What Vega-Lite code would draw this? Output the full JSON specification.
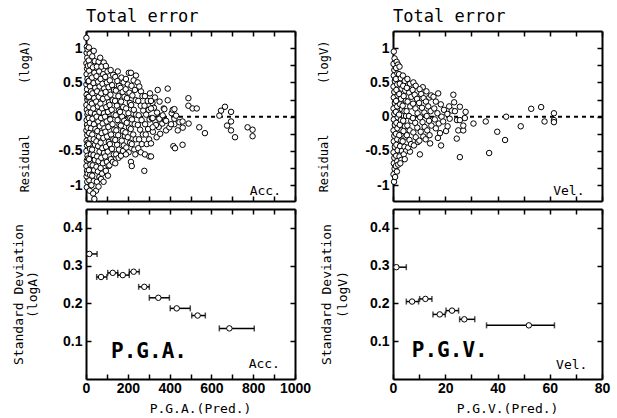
{
  "$schema": "https://vega.github.io/schema/vega-lite/v6.json",
  "padding": {"left": 12, "top": 8, "right": 5, "bottom": 5},
  "background": "white",
  "datasets": {
    "acc": [
      {"p":2,"r":1.15},{"p":4,"r":1.02},{"p":3,"r":0.93},{"p":6,"r":0.86},{"p":2,"r":0.78},{"p":5,"r":0.7},{"p":3,"r":0.62},{"p":7,"r":0.55},{"p":2,"r":0.47},{"p":5,"r":0.4},{"p":3,"r":0.32},{"p":6,"r":0.25},{"p":2,"r":0.17},{"p":4,"r":0.1},{"p":7,"r":0.03},{"p":3,"r":-0.05},{"p":5,"r":-0.12},{"p":2,"r":-0.2},{"p":6,"r":-0.27},{"p":3,"r":-0.35},{"p":5,"r":-0.42},{"p":2,"r":-0.5},{"p":7,"r":-0.57},{"p":4,"r":-0.64},{"p":2,"r":-0.72},{"p":5,"r":-0.79},{"p":3,"r":-0.87},{"p":6,"r":-0.95},{"p":4,"r":-1.03},{"p":8,"r":0.98},{"p":9,"r":0.74},{"p":10,"r":0.51},{"p":9,"r":0.28},{"p":10,"r":0.06},{"p":8,"r":-0.16},{"p":10,"r":-0.38},{"p":9,"r":-0.61},{"p":8,"r":-0.83},
      {"p":14,"r":1.01},{"p":18,"r":0.92},{"p":13,"r":0.82},{"p":20,"r":0.75},{"p":15,"r":0.67},{"p":22,"r":0.6},{"p":13,"r":0.52},{"p":19,"r":0.44},{"p":24,"r":0.37},{"p":14,"r":0.29},{"p":20,"r":0.21},{"p":16,"r":0.14},{"p":23,"r":0.06},{"p":13,"r":-0.02},{"p":18,"r":-0.09},{"p":24,"r":-0.17},{"p":15,"r":-0.24},{"p":21,"r":-0.32},{"p":13,"r":-0.4},{"p":19,"r":-0.47},{"p":24,"r":-0.55},{"p":15,"r":-0.62},{"p":21,"r":-0.7},{"p":14,"r":-0.78},{"p":20,"r":-0.85},{"p":16,"r":-0.93},{"p":23,"r":-1.0},{"p":18,"r":-1.08},
      {"p":37,"r":0.96},{"p":30,"r":0.88},{"p":42,"r":0.81},{"p":33,"r":0.72},{"p":40,"r":0.64},{"p":29,"r":0.57},{"p":36,"r":0.49},{"p":44,"r":0.42},{"p":31,"r":0.34},{"p":39,"r":0.27},{"p":28,"r":0.19},{"p":35,"r":0.12},{"p":43,"r":0.04},{"p":31,"r":-0.03},{"p":38,"r":-0.11},{"p":45,"r":-0.18},{"p":30,"r":-0.26},{"p":37,"r":-0.33},{"p":43,"r":-0.41},{"p":29,"r":-0.48},{"p":36,"r":-0.56},{"p":42,"r":-0.63},{"p":32,"r":-0.71},{"p":39,"r":-0.78},{"p":30,"r":-0.86},{"p":37,"r":-0.94},{"p":26,"r":-1.0},{"p":40,"r":-1.2},{"p":48,"r":-1.08},{"p":34,"r":-1.12},
      {"p":60,"r":0.8},{"p":52,"r":0.73},{"p":63,"r":0.66},{"p":50,"r":0.59},{"p":58,"r":0.51},{"p":65,"r":0.44},{"p":53,"r":0.37},{"p":61,"r":0.29},{"p":49,"r":0.22},{"p":57,"r":0.15},{"p":64,"r":0.07},{"p":51,"r":0.0},{"p":59,"r":-0.07},{"p":66,"r":-0.14},{"p":54,"r":-0.21},{"p":62,"r":-0.29},{"p":50,"r":-0.36},{"p":58,"r":-0.43},{"p":65,"r":-0.51},{"p":53,"r":-0.58},{"p":60,"r":-0.65},{"p":50,"r":-0.73},{"p":57,"r":-0.8},{"p":64,"r":-0.88},{"p":52,"r":-0.95},{"p":60,"r":-1.02},
      {"p":68,"r":0.86},{"p":85,"r":0.79},{"p":74,"r":0.73},{"p":82,"r":0.62},{"p":70,"r":0.55},{"p":79,"r":0.48},{"p":87,"r":0.41},{"p":73,"r":0.34},{"p":81,"r":0.26},{"p":69,"r":0.19},{"p":77,"r":0.12},{"p":86,"r":0.05},{"p":72,"r":-0.02},{"p":80,"r":-0.1},{"p":88,"r":-0.17},{"p":75,"r":-0.24},{"p":83,"r":-0.31},{"p":70,"r":-0.38},{"p":78,"r":-0.46},{"p":86,"r":-0.53},{"p":73,"r":-0.6},{"p":81,"r":-0.68},{"p":70,"r":-0.75},{"p":77,"r":-0.83},{"p":72,"r":-0.91},{"p":84,"r":-0.95},
      {"p":95,"r":0.74},{"p":103,"r":0.66},{"p":92,"r":0.58},{"p":100,"r":0.5},{"p":108,"r":0.43},{"p":94,"r":0.36},{"p":102,"r":0.28},{"p":110,"r":0.21},{"p":97,"r":0.14},{"p":105,"r":0.07},{"p":91,"r":0.0},{"p":99,"r":-0.07},{"p":107,"r":-0.15},{"p":93,"r":-0.22},{"p":101,"r":-0.29},{"p":109,"r":-0.37},{"p":96,"r":-0.44},{"p":104,"r":-0.51},{"p":92,"r":-0.58},{"p":100,"r":-0.66},{"p":108,"r":-0.72},{"p":95,"r":-0.79},{"p":112,"r":-0.71},{"p":105,"r":-0.86},
      {"p":118,"r":0.68},{"p":130,"r":0.61},{"p":114,"r":0.53},{"p":125,"r":0.46},{"p":134,"r":0.39},{"p":117,"r":0.32},{"p":128,"r":0.24},{"p":113,"r":0.17},{"p":123,"r":0.1},{"p":132,"r":0.03},{"p":116,"r":-0.04},{"p":127,"r":-0.11},{"p":135,"r":-0.19},{"p":120,"r":-0.26},{"p":131,"r":-0.33},{"p":114,"r":-0.4},{"p":124,"r":-0.47},{"p":133,"r":-0.55},{"p":119,"r":-0.62},{"p":128,"r":-0.66},{"p":140,"r":-0.68},
      {"p":152,"r":0.66},{"p":140,"r":0.58},{"p":150,"r":0.52},{"p":158,"r":0.45},{"p":143,"r":0.38},{"p":155,"r":0.3},{"p":139,"r":0.23},{"p":148,"r":0.16},{"p":157,"r":0.09},{"p":142,"r":0.02},{"p":151,"r":-0.05},{"p":160,"r":-0.12},{"p":145,"r":-0.2},{"p":154,"r":-0.27},{"p":140,"r":-0.34},{"p":149,"r":-0.41},{"p":158,"r":-0.48},{"p":144,"r":-0.55},{"p":156,"r":-0.6},
      {"p":170,"r":0.57},{"p":180,"r":0.5},{"p":165,"r":0.42},{"p":175,"r":0.36},{"p":184,"r":0.29},{"p":168,"r":0.22},{"p":178,"r":0.14},{"p":163,"r":0.07},{"p":173,"r":0.0},{"p":183,"r":-0.06},{"p":167,"r":-0.13},{"p":177,"r":-0.21},{"p":186,"r":-0.28},{"p":171,"r":-0.35},{"p":181,"r":-0.42},{"p":167,"r":-0.57},{"p":177,"r":-0.5},
      {"p":191,"r":0.55},{"p":205,"r":0.64},{"p":200,"r":0.47},{"p":190,"r":0.4},{"p":208,"r":0.35},{"p":196,"r":0.27},{"p":210,"r":0.2},{"p":192,"r":0.12},{"p":203,"r":0.05},{"p":212,"r":-0.02},{"p":195,"r":-0.09},{"p":206,"r":-0.16},{"p":189,"r":-0.23},{"p":200,"r":-0.3},{"p":211,"r":-0.38},{"p":193,"r":-0.45},{"p":204,"r":-0.52},{"p":191,"r":-0.55},
      {"p":215,"r":0.64},{"p":239,"r":0.6},{"p":228,"r":0.53},{"p":218,"r":0.45},{"p":234,"r":0.39},{"p":222,"r":0.31},{"p":238,"r":0.24},{"p":216,"r":0.17},{"p":229,"r":0.1},{"p":240,"r":0.03},{"p":220,"r":-0.04},{"p":233,"r":-0.11},{"p":214,"r":-0.18},{"p":226,"r":-0.26},{"p":238,"r":-0.33},{"p":219,"r":-0.4},{"p":231,"r":-0.48},{"p":215,"r":-0.66},{"p":219,"r":-0.72},{"p":236,"r":-0.55},
      {"p":247,"r":0.5},{"p":263,"r":0.37},{"p":255,"r":0.44},{"p":270,"r":0.3},{"p":250,"r":0.23},{"p":262,"r":0.16},{"p":274,"r":0.09},{"p":252,"r":0.02},{"p":266,"r":-0.05},{"p":248,"r":-0.12},{"p":259,"r":-0.19},{"p":272,"r":-0.26},{"p":254,"r":-0.33},{"p":267,"r":-0.4},{"p":250,"r":-0.46},{"p":262,"r":-0.52},
      {"p":282,"r":0.3},{"p":306,"r":0.34},{"p":295,"r":0.23},{"p":280,"r":0.16},{"p":300,"r":0.1},{"p":288,"r":0.03},{"p":304,"r":-0.04},{"p":283,"r":-0.11},{"p":297,"r":-0.18},{"p":286,"r":-0.26},{"p":302,"r":-0.33},{"p":279,"r":-0.79},{"p":282,"r":-0.55},{"p":303,"r":-0.58},{"p":291,"r":-0.4},
      {"p":343,"r":0.39},{"p":330,"r":0.28},{"p":318,"r":0.2},{"p":352,"r":0.22},{"p":325,"r":0.13},{"p":340,"r":0.06},{"p":315,"r":-0.02},{"p":360,"r":0.0},{"p":332,"r":-0.08},{"p":348,"r":-0.15},{"p":320,"r":-0.22},{"p":365,"r":-0.1},{"p":338,"r":-0.3},{"p":355,"r":-0.25},{"p":372,"r":0.12},{"p":378,"r":-0.05},
      {"p":311,"r":0.23},{"p":311,"r":0.12},{"p":319,"r":-0.02},{"p":335,"r":-0.12},{"p":319,"r":-0.155},{"p":351,"r":-0.03},{"p":367,"r":0.02},{"p":375,"r":0.11},{"p":383,"r":-0.06},{"p":383,"r":-0.2},{"p":399,"r":-0.155},{"p":410,"r":0.05},{"p":415,"r":0.1},{"p":423,"r":-0.03},{"p":423,"r":-0.11},{"p":439,"r":-0.2},{"p":447,"r":-0.08},{"p":463,"r":-0.16},{"p":407,"r":-0.11},{"p":431,"r":0.015},{"p":311,"r":-0.58},{"p":311,"r":-0.39},
      {"p":391,"r":0.41},{"p":391,"r":0.24},{"p":490,"r":0.27},{"p":490,"r":0.16},{"p":510,"r":0.12},{"p":530,"r":0.12},{"p":423,"r":0.11},{"p":646,"r":0.087},{"p":665,"r":0.145},{"p":694,"r":0.07},{"p":638,"r":0.015},{"p":694,"r":-0.07},{"p":675,"r":-0.13},{"p":694,"r":-0.2},{"p":713,"r":-0.3},{"p":773,"r":-0.155},{"p":797,"r":-0.19},{"p":797,"r":-0.285},{"p":542,"r":-0.155},{"p":569,"r":-0.24},{"p":491,"r":-0.1},{"p":462,"r":-0.07},{"p":462,"r":-0.41},{"p":418,"r":-0.43},{"p":426,"r":-0.46}
    ],
    "vel": [
      {"p":0.3,"r":0.95},{"p":0.6,"r":0.85},{"p":0.2,"r":0.77},{"p":0.5,"r":0.68},{"p":0.3,"r":0.6},{"p":0.7,"r":0.52},{"p":0.2,"r":0.44},{"p":0.5,"r":0.36},{"p":0.3,"r":0.28},{"p":0.7,"r":0.2},{"p":0.2,"r":0.12},{"p":0.5,"r":0.04},{"p":0.3,"r":-0.04},{"p":0.7,"r":-0.12},{"p":0.2,"r":-0.2},{"p":0.5,"r":-0.28},{"p":0.3,"r":-0.36},{"p":0.7,"r":-0.44},{"p":0.2,"r":-0.52},{"p":0.5,"r":-0.6},{"p":0.3,"r":-0.68},{"p":0.6,"r":-0.76},{"p":0.2,"r":-0.84},{"p":0.4,"r":-0.95},{"p":0.8,"r":-0.88},
      {"p":1.4,"r":0.8},{"p":1.9,"r":0.76},{"p":1.2,"r":0.71},{"p":1.7,"r":0.63},{"p":1.1,"r":0.55},{"p":1.6,"r":0.47},{"p":1.3,"r":0.39},{"p":1.8,"r":0.31},{"p":1.2,"r":0.23},{"p":1.6,"r":0.15},{"p":1.1,"r":0.07},{"p":1.8,"r":-0.01},{"p":1.3,"r":-0.09},{"p":1.7,"r":-0.17},{"p":1.1,"r":-0.25},{"p":1.6,"r":-0.33},{"p":1.3,"r":-0.41},{"p":1.8,"r":-0.49},{"p":1.2,"r":-0.57},{"p":1.6,"r":-0.65},{"p":1.1,"r":-0.72},{"p":1.5,"r":-0.8},{"p":2.0,"r":-0.7},
      {"p":2.5,"r":0.73},{"p":2.3,"r":0.62},{"p":3.0,"r":0.56},{"p":2.6,"r":0.48},{"p":3.3,"r":0.41},{"p":2.4,"r":0.33},{"p":3.1,"r":0.26},{"p":2.7,"r":0.18},{"p":3.4,"r":0.11},{"p":2.3,"r":0.03},{"p":3.0,"r":-0.05},{"p":2.6,"r":-0.12},{"p":3.3,"r":-0.2},{"p":2.4,"r":-0.27},{"p":3.1,"r":-0.35},{"p":2.7,"r":-0.43},{"p":3.4,"r":-0.5},{"p":2.5,"r":-0.58},{"p":3.2,"r":-0.63},{"p":2.8,"r":-0.68},
      {"p":3.8,"r":0.6},{"p":4.5,"r":0.52},{"p":3.9,"r":0.45},{"p":4.7,"r":0.38},{"p":4.1,"r":0.3},{"p":4.9,"r":0.23},{"p":3.7,"r":0.16},{"p":4.4,"r":0.08},{"p":5.0,"r":0.01},{"p":3.9,"r":-0.06},{"p":4.6,"r":-0.14},{"p":4.0,"r":-0.21},{"p":4.8,"r":-0.29},{"p":3.7,"r":-0.36},{"p":4.4,"r":-0.44},{"p":5.0,"r":-0.5},{"p":4.1,"r":-0.55},{"p":4.5,"r":-0.62},
      {"p":5.5,"r":0.55},{"p":6.5,"r":0.48},{"p":5.3,"r":0.42},{"p":6.2,"r":0.35},{"p":7.0,"r":0.29},{"p":5.6,"r":0.22},{"p":6.6,"r":0.15},{"p":5.2,"r":0.08},{"p":6.1,"r":0.01},{"p":7.0,"r":-0.06},{"p":5.5,"r":-0.13},{"p":6.4,"r":-0.2},{"p":5.3,"r":-0.27},{"p":6.3,"r":-0.34},{"p":6.5,"r":-0.51},{"p":5.8,"r":-0.45},{"p":6.9,"r":-0.4},
      {"p":7.8,"r":0.5},{"p":8.7,"r":0.45},{"p":7.5,"r":0.39},{"p":8.3,"r":0.32},{"p":9.2,"r":0.26},{"p":7.7,"r":0.19},{"p":8.6,"r":0.12},{"p":9.4,"r":0.05},{"p":7.6,"r":-0.02},{"p":8.5,"r":-0.09},{"p":9.3,"r":-0.16},{"p":7.8,"r":-0.23},{"p":8.7,"r":-0.3},{"p":9.5,"r":-0.37},{"p":8.0,"r":-0.42},
      {"p":11.4,"r":0.43},{"p":10.2,"r":0.4},{"p":10.8,"r":0.33},{"p":11.7,"r":0.27},{"p":10.0,"r":0.2},{"p":11.1,"r":0.13},{"p":12.0,"r":0.06},{"p":10.4,"r":-0.01},{"p":11.3,"r":-0.08},{"p":12.1,"r":-0.15},{"p":10.6,"r":-0.22},{"p":11.6,"r":-0.29},{"p":10.3,"r":-0.55},{"p":10.1,"r":-0.35},
      {"p":13.9,"r":0.28},{"p":12.8,"r":0.37},{"p":14.6,"r":0.31},{"p":12.6,"r":0.22},{"p":13.5,"r":0.15},{"p":14.4,"r":0.08},{"p":12.9,"r":0.01},{"p":13.8,"r":-0.06},{"p":14.7,"r":-0.13},{"p":13.1,"r":-0.2},{"p":14.0,"r":-0.27},{"p":14.2,"r":-0.39},{"p":12.5,"r":-0.33},
      {"p":17.3,"r":0.34},{"p":15.5,"r":0.29},{"p":16.4,"r":0.22},{"p":18.3,"r":0.18},{"p":15.8,"r":0.12},{"p":17.0,"r":0.05},{"p":18.6,"r":0.0},{"p":16.0,"r":-0.04},{"p":17.5,"r":-0.1},{"p":19.2,"r":-0.07},{"p":16.4,"r":-0.17},{"p":18.0,"r":-0.24},{"p":18.4,"r":-0.42},{"p":17.2,"r":-0.31},{"p":19.5,"r":0.1},
      {"p":23.1,"r":0.32},{"p":23.4,"r":0.21},{"p":20.8,"r":0.04},{"p":22.5,"r":0.09},{"p":20.3,"r":-0.21},{"p":20.9,"r":-0.14},{"p":21.7,"r":-0.03},{"p":24.4,"r":-0.32},{"p":25.6,"r":0.145},{"p":25.6,"r":-0.59},{"p":25.0,"r":-0.2},{"p":24.5,"r":-0.05},{"p":21.5,"r":0.15},{"p":23.7,"r":0.08},{"p":25.6,"r":-0.05},
      {"p":26.9,"r":-0.2},{"p":27.8,"r":0.07},{"p":27.5,"r":-0.02},{"p":26.9,"r":-0.13},{"p":30.8,"r":-0.1},{"p":35.5,"r":-0.07},{"p":43.3,"r":0.0},{"p":39.9,"r":-0.22},{"p":42.9,"r":-0.34},{"p":36.8,"r":-0.53},{"p":48.9,"r":-0.14},{"p":52.9,"r":0.115},{"p":56.7,"r":0.14},{"p":58.0,"r":-0.07},{"p":61.6,"r":0.05},{"p":61.6,"r":-0.05},{"p":61.6,"r":-0.08}
    ],
    "accsd": [
      {"p":16,"lo":5,"hi":53,"sd":0.331},
      {"p":72,"lo":51,"hi":100,"sd":0.27},
      {"p":128,"lo":104,"hi":152,"sd":0.281},
      {"p":176,"lo":152,"hi":207,"sd":0.275},
      {"p":228,"lo":207,"hi":255,"sd":0.284},
      {"p":279,"lo":252,"hi":303,"sd":0.244},
      {"p":346,"lo":303,"hi":399,"sd":0.215},
      {"p":434,"lo":403,"hi":499,"sd":0.187},
      {"p":534,"lo":506,"hi":571,"sd":0.168},
      {"p":686,"lo":638,"hi":805,"sd":0.134}
    ],
    "velsd": [
      {"p":1.3,"lo":0.2,"hi":5.1,"sd":0.296},
      {"p":7.3,"lo":5.1,"hi":9.8,"sd":0.205},
      {"p":12.4,"lo":10.2,"hi":14.9,"sd":0.212},
      {"p":17.9,"lo":15.3,"hi":20.0,"sd":0.171},
      {"p":22.6,"lo":20.3,"hi":25.1,"sd":0.181},
      {"p":27.3,"lo":25.5,"hi":31.3,"sd":0.158},
      {"p":52.0,"lo":35.8,"hi":61.8,"sd":0.142}
    ]
  },
  "config": {
    "view": {"stroke": null},
    "axis": {
      "grid": false,
      "domainColor": "black", "domainWidth": 2,
      "tickColor": "black", "tickWidth": 1.5, "tickSize": -5,
      "labelFont": "Liberation Sans", "labelFontWeight": "bold", "labelFontSize": 14, "labelColor": "black",
      "labelPadding": 9, "labelFlush": false, "labelOverlap": false, "labelBound": false,
      "titleFont": "DejaVu Sans Mono", "titleFontSize": 13, "titleFontWeight": "normal", "titleColor": "black"
    }
  },
  "columns": 2,
  "spacing": {"row": 8, "column": 98},
  "bounds": "flush",
  "concat": [
    {
      "width": 209, "height": 170,
      "title": {"text": "Total error", "anchor": "start", "frame": "group", "font": "DejaVu Sans Mono", "fontSize": 17, "fontWeight": "normal", "color": "black", "offset": 4},
      "resolve": {"axis": {"x": "independent", "y": "independent"}},
      "layer": [
        {"data": {"values": [{}]}, "mark": {"type": "rule", "strokeDash": [4, 4], "strokeWidth": 2, "color": "black"},
         "encoding": {"y": {"datum": 0, "type": "quantitative", "scale": {"domain": [-1.23, 1.25], "nice": false}, "axis": null}}},
        {"data": {"name": "acc"}, "mark": {"type": "point", "shape": "circle", "filled": true, "fill": "white", "stroke": "black", "strokeWidth": 1, "size": 30, "opacity": 1},
         "encoding": {
           "x": {"field": "p", "type": "quantitative", "scale": {"domain": [0, 1000], "nice": false}, "axis": {"orient": "bottom", "values": [0,100,200,300,400,500,600,700,800,900,1000], "labels": false, "title": null}},
           "y": {"field": "r", "type": "quantitative", "scale": {"domain": [-1.23, 1.25], "nice": false}, "axis": {"orient": "left", "values": [-1,-0.75,-0.5,-0.25,0,0.25,0.5,0.75,1], "labelExpr": "abs(round(datum.value*4))%2==0 ? datum.value + '' : ''", "title": "Residual\u00a0\u00a0\u00a0\u00a0\u00a0\u00a0\u00a0(logA)", "titleFontSize": 12, "titlePadding": 26}}
         }},
        {"data": {"values": [{}]}, "mark": {"type": "text", "text": "Acc.", "align": "right", "baseline": "alphabetic", "font": "DejaVu Sans Mono", "fontSize": 13, "color": "black"},
         "encoding": {
           "x": {"datum": 933, "type": "quantitative", "scale": {"domain": [0, 1000], "nice": false}, "axis": {"orient": "top", "values": [0,100,200,300,400,500,600,700,800,900,1000], "labels": false, "title": null}},
           "y": {"datum": -1.14, "type": "quantitative", "scale": {"domain": [-1.23, 1.25], "nice": false}, "axis": {"orient": "right", "values": [-1,-0.75,-0.5,-0.25,0,0.25,0.5,0.75,1], "labels": false, "title": null}}
         }}
      ]
    },
    {
      "width": 209, "height": 170,
      "title": {"text": "Total error", "anchor": "start", "frame": "group", "font": "DejaVu Sans Mono", "fontSize": 17, "fontWeight": "normal", "color": "black", "offset": 4},
      "resolve": {"axis": {"x": "independent", "y": "independent"}},
      "layer": [
        {"data": {"values": [{}]}, "mark": {"type": "rule", "strokeDash": [4, 4], "strokeWidth": 2, "color": "black"},
         "encoding": {"y": {"datum": 0, "type": "quantitative", "scale": {"domain": [-1.23, 1.25], "nice": false}, "axis": null}}},
        {"data": {"name": "vel"}, "mark": {"type": "point", "shape": "circle", "filled": true, "fill": "white", "stroke": "black", "strokeWidth": 1, "size": 30, "opacity": 1},
         "encoding": {
           "x": {"field": "p", "type": "quantitative", "scale": {"domain": [0, 80], "nice": false}, "axis": {"orient": "bottom", "values": [0,10,20,30,40,50,60,70,80], "labels": false, "title": null}},
           "y": {"field": "r", "type": "quantitative", "scale": {"domain": [-1.23, 1.25], "nice": false}, "axis": {"orient": "left", "values": [-1,-0.75,-0.5,-0.25,0,0.25,0.5,0.75,1], "labelExpr": "abs(round(datum.value*4))%2==0 ? datum.value + '' : ''", "title": "Residual\u00a0\u00a0\u00a0\u00a0\u00a0\u00a0\u00a0(logV)", "titleFontSize": 12, "titlePadding": 34}}
         }},
        {"data": {"values": [{}]}, "mark": {"type": "text", "text": "Vel.", "align": "right", "baseline": "alphabetic", "font": "DejaVu Sans Mono", "fontSize": 13, "color": "black"},
         "encoding": {
           "x": {"datum": 73.3, "type": "quantitative", "scale": {"domain": [0, 80], "nice": false}, "axis": {"orient": "top", "values": [0,10,20,30,40,50,60,70,80], "labels": false, "title": null}},
           "y": {"datum": -1.14, "type": "quantitative", "scale": {"domain": [-1.23, 1.25], "nice": false}, "axis": {"orient": "right", "values": [-1,-0.75,-0.5,-0.25,0,0.25,0.5,0.75,1], "labels": false, "title": null}}
         }}
      ]
    },
    {
      "width": 209, "height": 170,
      "resolve": {"axis": {"x": "independent", "y": "independent"}},
      "layer": [
        {"data": {"name": "accsd"}, "mark": {"type": "rule", "strokeWidth": 1.5, "color": "black"},
         "encoding": {
           "x": {"field": "lo", "type": "quantitative", "scale": {"domain": [0, 1000], "nice": false}, "axis": {"orient": "bottom", "values": [0,100,200,300,400,500,600,700,800,900,1000], "labelExpr": "datum.value % 200 == 0 ? datum.value + '' : ''", "title": "P.G.A.(Pred.)", "titleX": 114, "titlePadding": 7, "labelPadding": 7}},
           "x2": {"field": "hi"},
           "y": {"field": "sd", "type": "quantitative", "scale": {"domain": [0, 0.45], "nice": false}, "axis": {"orient": "left", "values": [0.1,0.2,0.3,0.4], "labelExpr": "datum.value + ''", "title": ["Standard Deviation", "(logA)"], "titleLineHeight": 14, "titlePadding": 23}}
         }},
        {"data": {"name": "accsd"}, "mark": {"type": "tick", "orient": "vertical", "size": 6, "thickness": 1.5, "color": "black"},
         "encoding": {
           "x": {"field": "lo", "type": "quantitative", "scale": {"domain": [0, 1000], "nice": false}, "axis": null},
           "y": {"field": "sd", "type": "quantitative", "scale": {"domain": [0, 0.45], "nice": false}, "axis": null}
         }},
        {"data": {"name": "accsd"}, "mark": {"type": "tick", "orient": "vertical", "size": 6, "thickness": 1.5, "color": "black"},
         "encoding": {
           "x": {"field": "hi", "type": "quantitative", "scale": {"domain": [0, 1000], "nice": false}, "axis": null},
           "y": {"field": "sd", "type": "quantitative", "scale": {"domain": [0, 0.45], "nice": false}, "axis": null}
         }},
        {"data": {"name": "accsd"}, "mark": {"type": "point", "shape": "circle", "filled": true, "fill": "white", "stroke": "black", "strokeWidth": 1, "size": 30, "opacity": 1},
         "encoding": {
           "x": {"field": "p", "type": "quantitative", "scale": {"domain": [0, 1000], "nice": false}, "axis": null},
           "y": {"field": "sd", "type": "quantitative", "scale": {"domain": [0, 0.45], "nice": false}, "axis": null}
         }},
        {"data": {"values": [{}]}, "mark": {"type": "text", "text": "P.G.A.", "align": "left", "baseline": "alphabetic", "font": "DejaVu Sans Mono", "fontSize": 21, "fontWeight": "bold", "color": "black"},
         "encoding": {
           "x": {"datum": 120, "type": "quantitative", "scale": {"domain": [0, 1000], "nice": false}, "axis": null},
           "y": {"datum": 0.056, "type": "quantitative", "scale": {"domain": [0, 0.45], "nice": false}, "axis": null}
         }},
        {"data": {"values": [{}]}, "mark": {"type": "text", "text": "Acc.", "align": "right", "baseline": "alphabetic", "font": "DejaVu Sans Mono", "fontSize": 13, "color": "black"},
         "encoding": {
           "x": {"datum": 928, "type": "quantitative", "scale": {"domain": [0, 1000], "nice": false}, "axis": {"orient": "top", "values": [0,100,200,300,400,500,600,700,800,900,1000], "labels": false, "title": null}},
           "y": {"datum": 0.028, "type": "quantitative", "scale": {"domain": [0, 0.45], "nice": false}, "axis": {"orient": "right", "values": [0.1,0.2,0.3,0.4], "labels": false, "title": null}}
         }}
      ]
    },
    {
      "width": 209, "height": 170,
      "resolve": {"axis": {"x": "independent", "y": "independent"}},
      "layer": [
        {"data": {"name": "velsd"}, "mark": {"type": "rule", "strokeWidth": 1.5, "color": "black"},
         "encoding": {
           "x": {"field": "lo", "type": "quantitative", "scale": {"domain": [0, 80], "nice": false}, "axis": {"orient": "bottom", "values": [0,10,20,30,40,50,60,70,80], "labelExpr": "datum.value % 20 == 0 ? datum.value + '' : ''", "title": "P.G.V.(Pred.)", "titleX": 114, "titlePadding": 7, "labelPadding": 7}},
           "x2": {"field": "hi"},
           "y": {"field": "sd", "type": "quantitative", "scale": {"domain": [0, 0.45], "nice": false}, "axis": {"orient": "left", "values": [0.1,0.2,0.3,0.4], "labelExpr": "datum.value + ''", "title": ["Standard Deviation", "(logV)"], "titleLineHeight": 16, "titlePadding": 20}}
         }},
        {"data": {"name": "velsd"}, "mark": {"type": "tick", "orient": "vertical", "size": 6, "thickness": 1.5, "color": "black"},
         "encoding": {
           "x": {"field": "lo", "type": "quantitative", "scale": {"domain": [0, 80], "nice": false}, "axis": null},
           "y": {"field": "sd", "type": "quantitative", "scale": {"domain": [0, 0.45], "nice": false}, "axis": null}
         }},
        {"data": {"name": "velsd"}, "mark": {"type": "tick", "orient": "vertical", "size": 6, "thickness": 1.5, "color": "black"},
         "encoding": {
           "x": {"field": "hi", "type": "quantitative", "scale": {"domain": [0, 80], "nice": false}, "axis": null},
           "y": {"field": "sd", "type": "quantitative", "scale": {"domain": [0, 0.45], "nice": false}, "axis": null}
         }},
        {"data": {"name": "velsd"}, "mark": {"type": "point", "shape": "circle", "filled": true, "fill": "white", "stroke": "black", "strokeWidth": 1, "size": 30, "opacity": 1},
         "encoding": {
           "x": {"field": "p", "type": "quantitative", "scale": {"domain": [0, 80], "nice": false}, "axis": null},
           "y": {"field": "sd", "type": "quantitative", "scale": {"domain": [0, 0.45], "nice": false}, "axis": null}
         }},
        {"data": {"values": [{}]}, "mark": {"type": "text", "text": "P.G.V.", "align": "left", "baseline": "alphabetic", "font": "DejaVu Sans Mono", "fontSize": 21, "fontWeight": "bold", "color": "black"},
         "encoding": {
           "x": {"datum": 7.2, "type": "quantitative", "scale": {"domain": [0, 80], "nice": false}, "axis": null},
           "y": {"datum": 0.058, "type": "quantitative", "scale": {"domain": [0, 0.45], "nice": false}, "axis": null}
         }},
        {"data": {"values": [{}]}, "mark": {"type": "text", "text": "Vel.", "align": "right", "baseline": "alphabetic", "font": "DejaVu Sans Mono", "fontSize": 13, "color": "black"},
         "encoding": {
           "x": {"datum": 74.4, "type": "quantitative", "scale": {"domain": [0, 80], "nice": false}, "axis": {"orient": "top", "values": [0,10,20,30,40,50,60,70,80], "labels": false, "title": null}},
           "y": {"datum": 0.026, "type": "quantitative", "scale": {"domain": [0, 0.45], "nice": false}, "axis": {"orient": "right", "values": [0.1,0.2,0.3,0.4], "labels": false, "title": null}}
         }}
      ]
    }
  ]
}
